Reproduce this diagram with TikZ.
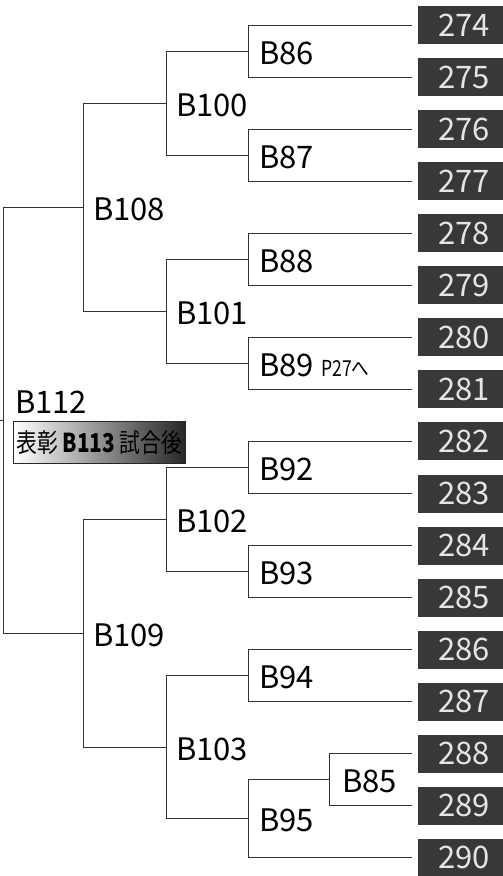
\documentclass[tikz,border=0pt]{standalone}
\usepackage{fontspec}
\setmainfont{Noto Sans CJK JP}
\usepackage{tikz}

\begin{document}
\begin{tikzpicture}
[x=1pt,y=-1pt]
\tikzset{br/.style={draw=black!80,line width=1pt}}
\tikzset{num/.style={anchor=west,fill=black!78,text=black!10,minimum width=92pt,minimum height=38pt,inner sep=0pt,font=\fontsize{31}{31}\selectfont}}
\tikzset{lbl/.style={anchor=base west,inner sep=0pt,font=\fontsize{31}{31}\selectfont}}
\tikzset{award/.style={anchor=north west,draw=black!85,line width=.8pt,left color=white,middle color=black!25,right color=black!85,minimum width=172pt,minimum height=42pt,inner sep=0pt,font=\fontsize{26}{26}\selectfont}}
\useasboundingbox (0,0) rectangle (503,876);
\node [num] (n274) at (418,25) {274};
\node [num] (n275) at (418,77.1) {275};
\node [num] (n276) at (418,129.1) {276};
\node [num] (n277) at (418,181.2) {277};
\node [num] (n278) at (418,233.2) {278};
\node [num] (n279) at (418,285.3) {279};
\node [num] (n280) at (418,337.3) {280};
\node [num] (n281) at (418,389.4) {281};
\node [num] (n282) at (418,441.4) {282};
\node [num] (n283) at (418,493.5) {283};
\node [num] (n284) at (418,545.5) {284};
\node [num] (n285) at (418,597.6) {285};
\node [num] (n286) at (418,649.6) {286};
\node [num] (n287) at (418,701.7) {287};
\node [num] (n288) at (418,753.7) {288};
\node [num] (n289) at (418,805.8) {289};
\node [num] (n290) at (418,857.8) {290};
\coordinate (rs) at (-2,420.3);
\coordinate (r) at (3,420.3);
\coordinate (j108) at (83,207.2);
\coordinate (j109) at (83,633.4);
\coordinate (j100) at (166,103.1);
\coordinate (j101) at (166,311.3);
\coordinate (j102) at (166,519.5);
\coordinate (j103) at (166,747.2);
\coordinate (j86) at (248,51.1);
\coordinate (j87) at (248,155.2);
\coordinate (j88) at (248,259.3);
\coordinate (j89) at (248,363.4);
\coordinate (j92) at (248,467.5);
\coordinate (j93) at (248,571.6);
\coordinate (j94) at (248,675.7);
\coordinate (j95) at (248,818.8);
\coordinate (j85) at (329,779.8);
\node [lbl] (b112) at (15,413) {B112};
\node [lbl] (b108) at (93,220.2) {B108};
\node [lbl] (b109) at (93,646.4) {B109};
\node [lbl] (b100) at (176,116.1) {B100};
\node [lbl] (b101) at (176,324.3) {B101};
\node [lbl] (b102) at (176,532.5) {B102};
\node [lbl] (b103) at (176,760.2) {B103};
\node [lbl] (b86) at (259,64.1) {B86};
\node [lbl] (b87) at (259,168.2) {B87};
\node [lbl] (b88) at (259,272.3) {B88};
\node [lbl] (b89) at (259,376.4) {B89};
\node [lbl] (b92) at (259,480.5) {B92};
\node [lbl] (b93) at (259,584.6) {B93};
\node [lbl] (b94) at (259,688.7) {B94};
\node [lbl] (b95) at (259,831.8) {B95};
\node [lbl] (b85) at (342,792.8) {B85};
\node [anchor=base west,inner sep=0pt,font=\fontsize{22}{22}\selectfont] (p27) at (321,376.4) {\scalebox{.8}[1]{P27へ}};
\node [award] (b113) at (13,421) {\scalebox{.8}[1]{表彰 \textbf{B113} 試合後}};

\draw [br] (rs) -- (r);
\foreach \from/\to in {r/j108,r/j109,j108/j100,j108/j101,j109/j102,j109/j103,j100/j86,j100/j87,j101/j88,j101/j89,j102/j92,j102/j93,j103/j94,j103/j95,j95/j85}
	\draw [br] (\from) |- (\to);
\foreach \from/\to in {j86/n274,j86/n275,j87/n276,j87/n277,j88/n278,j88/n279,j89/n280,j89/n281,j92/n282,j92/n283,j93/n284,j93/n285,j94/n286,j94/n287,j85/n288,j85/n289,j95/n290}
	\draw [br,shorten >=6pt] (\from) |- (\to.west);
\end{tikzpicture}
\end{document}
